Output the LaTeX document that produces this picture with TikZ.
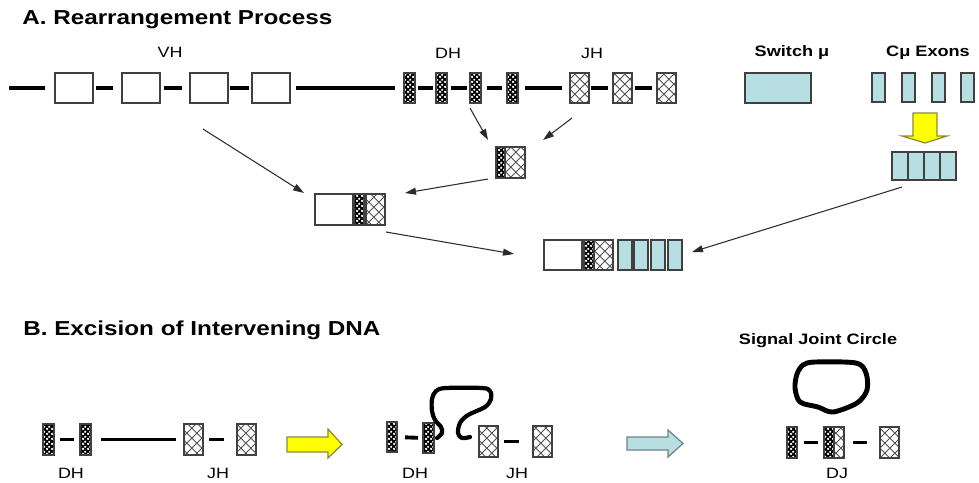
\documentclass[tikz,border=0pt]{standalone}
\usepackage{fontspec}
\setmainfont{Liberation Sans}[FakeStretch=1.2]
\usepackage{xcolor}
\usepackage{tikz}
\usetikzlibrary{arrows.meta,patterns.meta}
\definecolor{edge}{HTML}{404040}
\definecolor{hatch}{HTML}{505050}
\definecolor{exon}{HTML}{B7DEE1}
\definecolor{pointer}{HTML}{2B2B2B}
\definecolor{yel}{HTML}{FFFF00}
\definecolor{yeledge}{HTML}{8A8A3A}
\definecolor{cyanedge}{HTML}{6E8285}
% white specks for D segments, lattice for J segments
\tikzdeclarepattern{
  name=stipple,
  bounding box={(0,0) and (2.6pt,2.6pt)},
  tile size={(2.6pt,2.6pt)},
  code={
    \fill (0.65pt,0.65pt) circle (0.8pt);
    \fill (1.95pt,1.95pt) circle (0.7pt);
  }
}
\tikzdeclarepattern{
  name=diamonds,
  bounding box={(0,0) and (5.6pt,5.6pt)},
  tile size={(5.6pt,5.6pt)},
  code={
    \draw[line width=0.5pt] (0,0) -- (5.6pt,5.6pt) (0,5.6pt) -- (5.6pt,0);
  }
}
\tikzset{
  seg/.style={draw=edge, line width=0.6pt, inner sep=0pt, outer sep=0pt, anchor=north west},
  vseg/.style={seg, fill=white, minimum width=7.6mm, minimum height=6mm},
  dseg/.style={seg, preaction={fill=black}, pattern=stipple, pattern color=white, minimum width=2.2mm, minimum height=6mm},
  jseg/.style={seg, preaction={fill=white}, pattern=diamonds, pattern color=hatch, minimum width=3.8mm, minimum height=6mm},
  cseg/.style={seg, fill=exon, minimum width=2.6mm, minimum height=5.8mm},
  dna/.style={draw=black, line width=2.2pt},
  ptr/.style={draw=pointer, line width=0.6pt, -{Triangle[length=2.2mm,width=1.4mm]}},
  loopy/.style={draw=black, line width=2.4pt, line cap=round, line join=round},
  block/.style={line width=0.7pt, line join=miter},
  lab/.style={font=\fontsize{8.5}{10}\selectfont},
  labb/.style={font=\fontsize{8.6}{10}\selectfont\bfseries},
  ttl/.style={font=\fontsize{11.5}{14}\selectfont\bfseries, anchor=west, inner sep=0pt},
}

\begin{document}
\begin{tikzpicture}[x=0.2mm,y=-0.2mm]
  \useasboundingbox (0,0) rectangle (979,482);

  %% A. rearrangement
  \node[ttl] (ttlA) at (22,20) {A. Rearrangement Process};
  \foreach \i/\x in {1/55,2/122,3/190,4/252}
    \node[vseg] (v\i) at (\x,73) {};
  \foreach \i/\x in {1/404,2/436,3/470,4/507}
    \node[dseg] (d\i) at (\x,73) {};
  \foreach \i/\x in {1/570,2/613,3/657}
    \node[jseg] (j\i) at (\x,73) {};
  \node[seg, fill=exon, minimum width=13.2mm, minimum height=6mm] (sw) at (745,73) {};
  \foreach \i/\x in {1/872,2/902,3/932,4/961}
    \node[cseg] (c\i) at (\x,73) {};

  \node[lab] (vh) at (170,52) {VH};
  \node[lab] (dh) at (448,53) {DH};
  \node[lab] (jh) at (592,53) {JH};
  \node[labb] (swlab) at (792,53) {Switch μ};
  \node[labb] (clab) at (928,53) {Cμ Exons};

  \coordinate (lendA) at (9,88);
  \draw[dna, shorten >=2mm] (lendA) -- (v1.west);
  \foreach \a/\b/\l/\r in {v1/v2/0.6/1.8, v2/v3/0.8/1.6, v3/v4/0.4/0.6, v4/d1/1.2/1.8,
      d1/d2/0.6/0.6, d2/d3/0.8/0.6, d3/d4/1.2/1.0, d4/j1/1.4/1.6, j1/j2/0.4/1.0, j2/j3/0.6/1.0}
    \draw[dna, shorten <=\l mm, shorten >=\r mm] (\a.east) -- (\b.west);

  % joined pieces
  \node[dseg, minimum width=1.8mm, minimum height=6.2mm] (djd) at (496,147) {};
  \node[jseg, minimum width=4mm, minimum height=6.2mm] (djj) at (djd.north east) {};

  \node[vseg, minimum height=6.2mm] (vdjv) at (315,194) {};
  \node[dseg, minimum width=2mm, minimum height=6.2mm] (vdjd) at (354,194) {};
  \node[jseg, minimum height=6.2mm] (vdjj) at (366,194) {};

  \foreach \i/\x in {1/892,2/908,3/924,4/940}
    \node[cseg, minimum width=3.2mm, minimum height=5.6mm] (cc\i) at (\x,152) {};

  \node[vseg] (fv) at (544,240) {};
  \node[dseg, minimum width=2mm] (fd) at (584,240) {};
  \node[jseg] (fj) at (594,240) {};
  \foreach \i/\x in {1/618,2/634,3/651,4/668}
    \node[cseg, minimum width=2.8mm, minimum height=6mm] (fc\i) at (\x,240) {};

  \draw[block, draw=yeledge, fill=yel] (913,113) -- (937,113) -- (937,136) -- (947,136)
    -- (925,143) -- (902,136) -- (913,136) -- cycle;

  \coordinate (vtail) at (203,129);   \coordinate (vtip) at (304,193);
  \coordinate (dtail) at (470,108);   \coordinate (dtip) at (488,140);
  \coordinate (jtail) at (572,118);   \coordinate (jtip) at (543,140);
  \coordinate (djtail) at (488,179);  \coordinate (djtip) at (405,193);
  \coordinate (vdjtail) at (386,232); \coordinate (vdjtip) at (514,254);
  \coordinate (ctail) at (902,187);   \coordinate (ctip) at (692,252);
  \foreach \s in {v,d,j,dj,vdj,c}
    \draw[ptr] (\s tail) -- (\s tip);

  %% B. excision
  \node[ttl] (ttlB) at (23,330) {B. Excision of Intervening DNA};

  % before
  \node[dseg, minimum height=6.2mm] (bd1) at (43,424) {};
  \node[dseg, minimum height=6.2mm] (bd2) at (80,424) {};
  \node[jseg, minimum height=6.2mm] (bj1) at (184,424) {};
  \node[jseg, minimum height=6.2mm] (bj2) at (237,424) {};
  \node[lab] (bdh) at (71,473) {DH};
  \node[lab] (bjh) at (218,473) {JH};

  % looped out
  \node[dseg, minimum width=2mm] (md1) at (387,422) {};
  \node[dseg, minimum width=2.2mm] (md2) at (423,423) {};
  \node[jseg, minimum height=6.2mm] (mj1) at (479,426) {};
  \node[jseg, minimum height=6.2mm] (mj2) at (533,426) {};
  \node[lab] (mdh) at (415,473) {DH};
  \node[lab] (mjh) at (517,473) {JH};
  \draw[loopy] plot[smooth, tension=0.55] coordinates {(437,438) (442,433) (441,427) (435,420)
    (432,411) (432,399) (436,391) (446,388) (482,388) (490,391) (491,399) (485,407) (468,415)
    (460,423) (458,433) (462,438) (470,437)};

  % joined
  \node[dseg, minimum width=2mm, minimum height=6.2mm] (rd) at (787,427) {};
  \node[dseg, minimum width=2mm, minimum height=6.2mm] (rdjd) at (824,427) {};
  \node[jseg, minimum width=2mm, minimum height=6.2mm] (rdjj) at (rdjd.north east) {};
  \node[jseg, minimum height=6.2mm] (rj) at (880,427) {};
  \node[lab] (rdj) at (837,473) {DJ};
  \node[labb] (sjc) at (818,341) {Signal Joint Circle};
  \draw[loopy, line width=2.8pt] plot[smooth cycle, tension=0.5] coordinates {(803,365) (815,362)
    (856,363) (866,373) (867,390) (857,403) (833,412) (818,407) (800,402) (795,388) (797,374)};

  \foreach \a/\b/\l/\r in {bd1/bd2/1.2/1.2, bd2/bj1/2/1.6, bj1/bj2/1.2/2.6,
      md1/md2/1.6/1, mj1/mj2/1.2/2.8, rd/rdjd/1.4/1.2, rdjj/rj/1.8/2.6}
    \draw[dna, shorten <=\l mm, shorten >=\r mm] (\a.east) -- (\b.west);

  \draw[block, draw=yeledge, fill=yel] (287,437) -- (328,437) -- (328,429) -- (342,444.5)
    -- (328,458) -- (328,452) -- (287,452) -- cycle;
  \draw[block, draw=cyanedge, fill=exon] (627,437) -- (668,437) -- (668,430) -- (683,443.5)
    -- (668,457) -- (668,450) -- (627,450) -- cycle;
\end{tikzpicture}
\end{document}
